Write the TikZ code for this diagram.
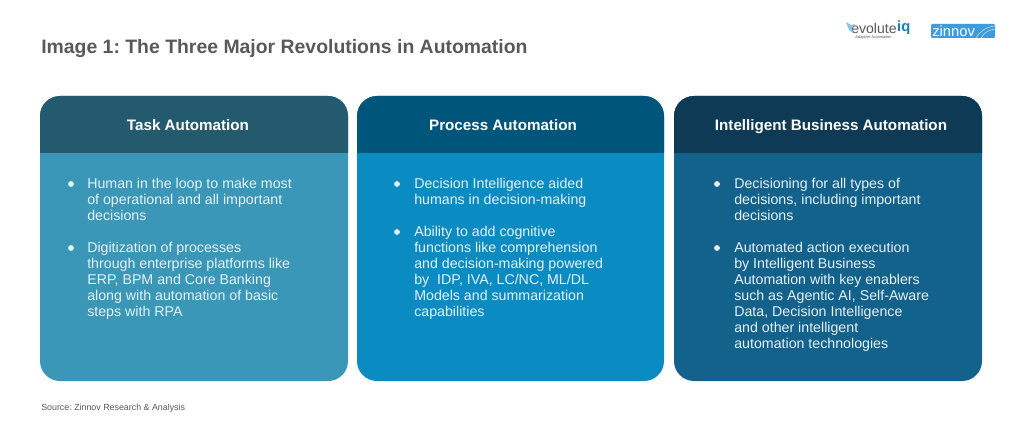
\documentclass[tikz,border=0pt]{standalone}
\usepackage{fontspec}
\setmainfont{Liberation Sans}
\usepackage{xcolor}
\usetikzlibrary{positioning}
\definecolor{headTask}{HTML}{235A6E}
\definecolor{bodyTask}{HTML}{3A97B8}
\definecolor{headProc}{HTML}{00557A}
\definecolor{bodyProc}{HTML}{0A8BC2}
\definecolor{headIntel}{HTML}{0F3A55}
\definecolor{bodyIntel}{HTML}{13628C}
\definecolor{titleGrey}{HTML}{595959}
\definecolor{bulletInk}{HTML}{E6F1F6}
\definecolor{zinnovBlue}{HTML}{3E9BDC}
\definecolor{iqBlue}{HTML}{1B7FB8}
\frenchspacing
\tikzset{
	cardhead/.style = {anchor = base, text = white, font = \fontsize{10.8}{12}\selectfont\bfseries},
	cardtext/.style = {anchor = north west, align = left, inner sep = 0pt, text = bulletInk, font = \fontsize{10.1}{11.38}\selectfont},
	cardcorner/.style = {rounded corners = 0.5cm}
}
\begin{document}
\begin{tikzpicture}[x = 0.025cm, y = -0.025cm]
	\useasboundingbox (0,0) rectangle (1024,426);
	\fill[white] (0,0) rectangle (1024,426);

	\node (title) [anchor = west, inner sep = 0pt, text = titleGrey, font = \fontsize{13.8}{16}\selectfont\bfseries] at (41,49) {Image 1: The Three Major Revolutions in Automation};

	% logos
	\node (evolute) [anchor = west, inner sep = 0pt, text = titleGrey, font = \fontsize{10}{11}\selectfont] at (851,28) {evolute};
	\node (iq) [right = 0pt of evolute, inner sep = 0pt, text = iqBlue, font = \fontsize{10.5}{11}\selectfont\bfseries] {iq};
	\node (adaptive) [anchor = west, inner sep = 0pt, text = titleGrey, font = \fontsize{2.8}{3}\selectfont] at (855,37) {Adaptive Automation};
	\fill[zinnovBlue!60] (846,22) -- (851,25) -- (855,24) -- (852,28) -- (853,33) -- (849,30) -- cycle;
	\fill[zinnovBlue, rounded corners = 0.03cm] (931,24) rectangle (995,38);
	\draw[white!70!zinnovBlue] (976,38) .. controls (980,31) and (986,27) .. (995,26);
	\draw[white!70!zinnovBlue] (981,38) .. controls (984,33) and (988,30) .. (995,29);
	\node (zinnov) [anchor = west, inner sep = 0pt, text = white, font = \fontsize{10.5}{12}\selectfont] at (932,31.5) {zinnov};

	% first card
	\fill[bodyTask, cardcorner] (40,96) rectangle (348,381);
	\fill[headTask] (40,153) [cardcorner] -- (40,96) -- (348,96) [sharp corners] -- (348,153) -- cycle;
	\node (taskhead) [cardhead] at (188,131) {Task Automation};
	\filldraw[bulletInk] (71,184) circle [radius = 1.8pt];
	\node (taska) [cardtext] at (87,178) {Human in the loop to make most\\of operational and all important\\decisions};
	\filldraw[bulletInk] (71,248) circle [radius = 1.8pt];
	\node (taskb) [cardtext] at (87,242) {Digitization of processes\\through enterprise platforms like\\ERP, BPM and Core Banking\\along with automation of basic\\steps with RPA};

	% second card
	\fill[bodyProc, cardcorner] (357,96) rectangle (664,381);
	\fill[headProc] (357,153) [cardcorner] -- (357,96) -- (664,96) [sharp corners] -- (664,153) -- cycle;
	\node (prochead) [cardhead] at (503,131) {Process Automation};
	\filldraw[bulletInk] (397,184) circle [radius = 1.8pt];
	\node (proca) [cardtext] at (414,178) {Decision Intelligence aided\\humans in decision-making};
	\filldraw[bulletInk] (397,232) circle [radius = 1.8pt];
	\node (procb) [cardtext] at (414,226) {Ability to add cognitive\\functions like comprehension\\and decision-making powered\\by~ IDP, IVA, LC/NC, ML/DL\\Models and summarization\\capabilities};

	% third card
	\fill[bodyIntel, cardcorner] (674,96) rectangle (982,381);
	\fill[headIntel] (674,153) [cardcorner] -- (674,96) -- (982,96) [sharp corners] -- (982,153) -- cycle;
	\node (intelhead) [cardhead] at (831,131) {Intelligent Business Automation};
	\filldraw[bulletInk] (717,184) circle [radius = 1.8pt];
	\node (intela) [cardtext] at (734,178) {Decisioning for all types of\\decisions, including important\\decisions};
	\filldraw[bulletInk] (717,248) circle [radius = 1.8pt];
	\node (intelb) [cardtext] at (734,242) {Automated action execution\\by Intelligent Business\\Automation with key enablers\\such as Agentic AI, Self-Aware\\Data, Decision Intelligence\\and other intelligent\\automation technologies};

	\node (source) [anchor = west, inner sep = 0pt, text = titleGrey, font = \fontsize{6.3}{8}\selectfont] at (41,408) {Source: Zinnov Research \& Analysis};
\end{tikzpicture}
\end{document}
